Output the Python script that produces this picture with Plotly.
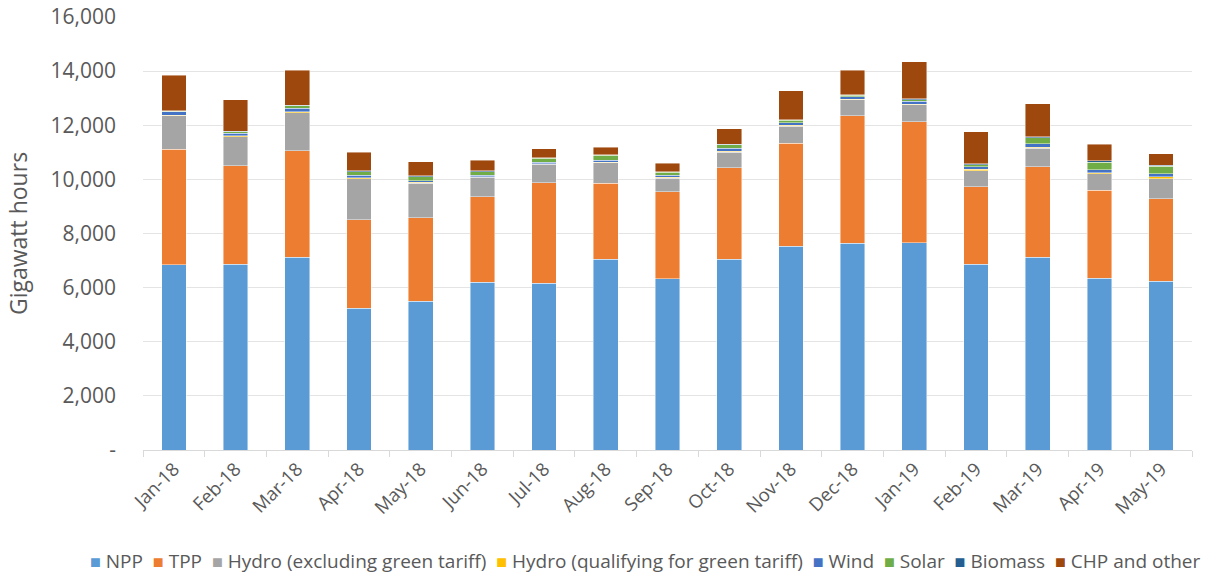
import plotly.graph_objects as go

months = ["Jan-18", "Feb-18", "Mar-18", "Apr-18", "May-18", "Jun-18", "Jul-18", "Aug-18",
          "Sep-18", "Oct-18", "Nov-18", "Dec-18", "Jan-19", "Feb-19", "Mar-19", "Apr-19", "May-19"]

npp = [6840, 6870, 7120, 5230, 5500, 6200, 6160, 7050, 6330, 7050, 7520, 7640, 7650, 6860, 7120, 6340, 6240]
tpp = [4280, 3640, 3940, 3270, 3090, 3160, 3720, 2810, 3220, 3380, 3810, 4720, 4480, 2870, 3350, 3260, 3050]
hydro = [1230, 1070, 1400, 1530, 1260, 720, 680, 760, 500, 580, 640, 590, 620, 590, 680, 600, 740]
hydro_green = [25, 25, 30, 30, 40, 20, 20, 15, 30, 25, 30, 20, 25, 50, 35, 40, 60]
wind = [120, 100, 130, 90, 60, 50, 55, 70, 70, 110, 100, 90, 110, 90, 130, 110, 110]
solar = [20, 50, 100, 140, 150, 140, 150, 180, 120, 130, 80, 50, 60, 85, 220, 290, 280]
biomass = [20, 20, 20, 25, 25, 20, 20, 20, 20, 20, 25, 25, 30, 25, 35, 40, 40]
chp = [1320, 1170, 1290, 680, 530, 390, 335, 285, 300, 570, 1070, 900, 1380, 1190, 1230, 610, 430]

y_tick_vals = [0, 2000, 4000, 6000, 8000, 10000, 12000, 14000, 16000]
y_tick_text = ["-", "2,000", "4,000", "6,000", "8,000", "10,000", "12,000", "14,000", "16,000"]

series_names = ["NPP", "TPP", "Hydro (excluding green tariff)", "Hydro (qualifying for green tariff)",
                "Wind", "Solar", "Biomass", "CHP and other"]
series_values = [npp, tpp, hydro, hydro_green, wind, solar, biomass, chp]
series_colors = ["#5B9BD5", "#ED7D31", "#A5A5A5", "#FFC000", "#4472C4", "#70AD47", "#255E91", "#9E480E"]

FONT = "Open Sans"
TXT = "#595959"

fig = go.Figure()
for name, vals, color in zip(series_names, series_values, series_colors):
    fig.add_trace(go.Bar(
        x=months, y=vals, name=name,
        marker=dict(color=color, line=dict(color="rgba(255,255,255,0.55)", width=0.8)),
    ))

# legend drawn as one text line (single row like the original)
NB = "\u00a0"
parts = []
for name, color in zip(series_names, series_colors):
    parts.append(f'<span style="color:{color};font-size:18px">■</span>{NB}{name}')
legend_text = (NB * 2).join(parts)

fig.add_annotation(
    text=legend_text, xref="paper", yref="paper", x=0.4786, y=-0.257,
    xanchor="center", yanchor="middle", showarrow=False,
    font=dict(family=FONT, size=19, color=TXT),
)

fig.update_layout(
    barmode="stack",
    bargap=0.6,
    width=1210, height=577,
    margin=dict(l=143, r=18, t=17, b=127),
    plot_bgcolor="white", paper_bgcolor="white",
    font=dict(family=FONT, color=TXT, size=18),
    showlegend=False,
    xaxis=dict(
        type="category", tickangle=-45, tickfont=dict(size=18.5, color=TXT, family=FONT),
        showline=True, linecolor="#D9D9D9", linewidth=1,
        ticks="outside", ticklen=6, tickcolor="#D9D9D9", tickson="boundaries",
        showgrid=False, automargin=False,
    ),
    yaxis=dict(
        range=[0, 16000], tickvals=y_tick_vals, ticktext=y_tick_text,
        tickfont=dict(size=21, color=TXT, family=FONT),
        showgrid=True, gridcolor="#E4E4E4", gridwidth=1,
        zeroline=False, showline=False, ticks="", ticklabelstandoff=26,
        ticklabeloverflow="allow",
        automargin=False,
        title=dict(text="Gigawatt hours", font=dict(size=23, color=TXT, family=FONT), standoff=16),
    ),
)

fig.write_html("out.html", config={"displayModeBar": False},
               post_script="document.body.style.margin='0';")
